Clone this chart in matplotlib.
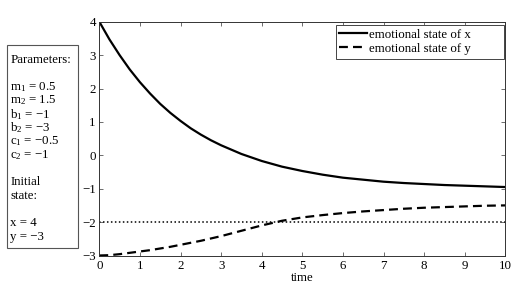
import matplotlib
matplotlib.use("Agg")
import matplotlib.pyplot as plt
from matplotlib.patches import Rectangle

plt.rcParams['font.family'] = ['Liberation Serif', 'DejaVu Serif']
plt.rcParams['mathtext.fontset'] = 'custom'
plt.rcParams['mathtext.rm'] = 'Liberation Serif'
plt.rcParams['mathtext.it'] = 'Liberation Serif:italic'

# values
t = [0, 0.25, 0.5, 0.75, 1, 1.25, 1.5, 1.75, 2, 2.25, 2.5, 2.75, 3, 3.5,
     4, 4.5, 5, 5.5, 6, 6.5, 7, 7.5, 8, 8.5, 9, 9.5, 10]
x_state = [4.00, 3.47, 3.00, 2.57, 2.19, 1.85, 1.54, 1.27, 1.03, 0.81, 0.62,
           0.45, 0.30, 0.04, -0.17, -0.34, -0.47, -0.58, -0.67, -0.73, -0.79,
           -0.83, -0.86, -0.89, -0.91, -0.93, -0.95]
y_state = [-3.00, -2.99, -2.96, -2.92, -2.88, -2.84, -2.79, -2.74, -2.68,
           -2.62, -2.56, -2.49, -2.42, -2.26, -2.10, -1.96, -1.86, -1.79,
           -1.73, -1.68, -1.64, -1.60, -1.57, -1.55, -1.53, -1.51, -1.50]
threshold = -2

param_lines = ["Parameters:", "", "m$_1$ = 0.5", "m$_2$ = 1.5", "b$_1$ = \u22121",
               "b$_2$ = \u22123", "c$_1$ = \u22120.5", "c$_2$ = \u22121", "",
               "Initial", "state:", "", "x = 4", "y = \u22123"]

W, H = 522, 289
fs = 9.3
fig = plt.figure(figsize=(W / 100, H / 100), dpi=100)
ax = fig.add_axes([99.3 / W, 1 - 255.5 / H, 406 / W, 233.8 / H])

ax.plot(t, x_state, color='black', lw=1.6, label='emotional state of x')
ax.plot(t, y_state, color='black', lw=1.6, ls=(0, (4, 2.3)),
        label='emotional state of y')
ax.axhline(threshold, color='black', lw=1.1, ls=(0, (1, 1.6)))

ax.set_xlim(0, 10)
ax.set_ylim(-3, 4)
ax.set_xticks(range(0, 11))
ax.set_yticks(range(-3, 5))
ax.tick_params(direction='in', top=True, right=True, length=3, width=0.6,
               labelsize=fs, color='#555555')
ax.tick_params(axis='x', pad=3.5)
ax.tick_params(axis='y', pad=2.5)
for s in ax.spines.values():
    s.set_linewidth(0.7)
    s.set_color('#333333')
ax.set_xlabel('time', fontsize=fs, labelpad=0)

leg = ax.legend(loc='upper left', bbox_to_anchor=(0.582, 0.986, 0.415, 0),
                mode='expand', borderaxespad=0, fontsize=fs, fancybox=False,
                edgecolor='#444444', framealpha=1, handlelength=2.1,
                handletextpad=0.15, borderpad=0.3, labelspacing=0.15)
leg.get_frame().set_linewidth(0.7)

fig.patches.append(Rectangle((6.7 / W, 1 - 248 / H), 71.5 / W, 203 / H,
                             transform=fig.transFigure, fill=False,
                             edgecolor='#555555', lw=0.8))
for i, line in enumerate(param_lines):
    if line:
        fig.text(10.5 / W, 1 - (59.8 + 13.6 * i) / H, line, fontsize=fs,
                 va='center', ha='left')

fig.savefig('out.png', dpi=100)
